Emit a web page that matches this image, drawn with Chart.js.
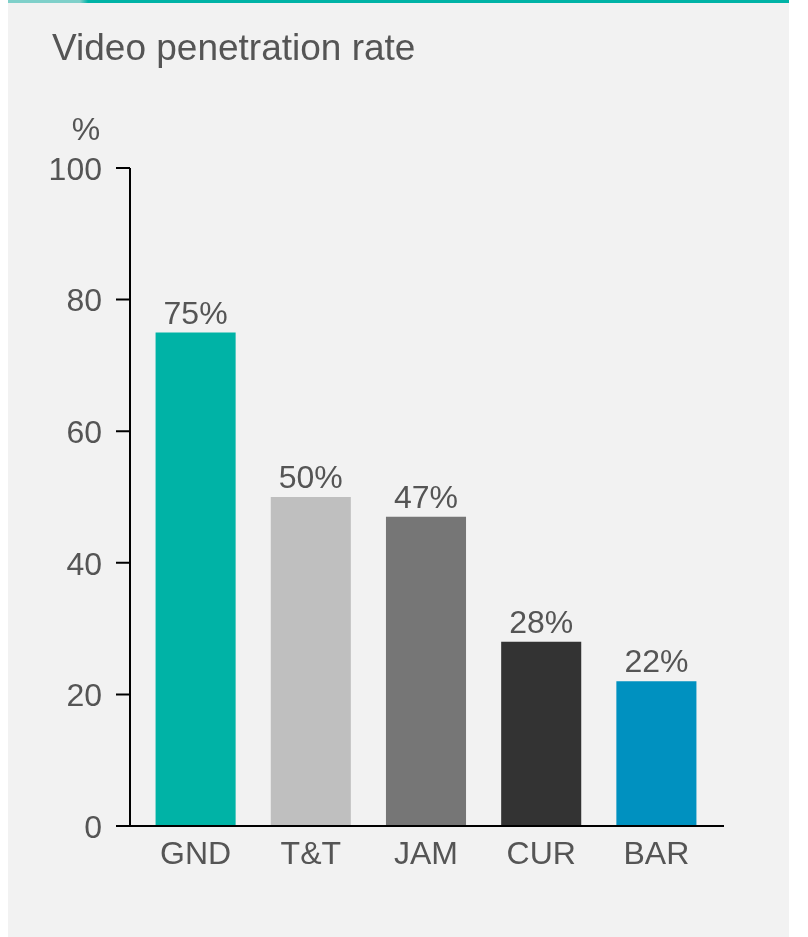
<!DOCTYPE html>
<html>
<head>
<meta charset="utf-8">
<script src="https://cdn.jsdelivr.net/npm/chart.js@4"></script>
<style>
  html, body { margin: 0; padding: 0; background: #ffffff; }
  #panel { position: absolute; left: 8px; top: 0; width: 781px; height: 937px; background: #f2f2f2; }
  #bar-top { position: absolute; left: 8px; top: 0; width: 781px; height: 3px;
    background: linear-gradient(to right, #7fd0ca 0, #7fd0ca 72px, #00b3a6 80px, #00b3a6 100%); }
  #wrap { position: absolute; left: 0; top: 0; width: 808px; height: 937px; }
</style>
</head>
<body>
<div id="panel"></div>
<div id="bar-top"></div>
<div id="wrap"><canvas id="chart" width="808" height="937"></canvas></div>
<script>
const categories = ['GND', 'T&T', 'JAM', 'CUR', 'BAR'];
const penetration = [75, 50, 47, 28, 22];
const barColors = ['#00b3a6', '#bfbfbf', '#767676', '#333333', '#0091c0'];
const yTicks = [0, 20, 40, 60, 80, 100];

const FONT = 'Arial, "Liberation Sans", sans-serif';
const TEXT = '#555555';

// axis lines, tick marks, title, unit and value labels
const decorations = {
  id: 'decorations',
  afterDatasetsDraw(chart) {
    const { ctx, chartArea, scales } = chart;
    const axisX = chartArea.left - 8;
    ctx.save();
    ctx.strokeStyle = '#000000';
    ctx.lineWidth = 2;
    ctx.beginPath();
    ctx.moveTo(axisX, scales.y.getPixelForValue(100));
    ctx.lineTo(axisX, chartArea.bottom);
    ctx.moveTo(chartArea.left - 22, chartArea.bottom);
    ctx.lineTo(chartArea.right + 10, chartArea.bottom);
    yTicks.forEach(v => {
      const y = scales.y.getPixelForValue(v);
      ctx.moveTo(axisX - 14, y);
      ctx.lineTo(axisX, y);
    });
    ctx.stroke();

    ctx.fillStyle = TEXT;
    ctx.font = '37px ' + FONT;
    ctx.textAlign = 'left';
    ctx.textBaseline = 'alphabetic';
    ctx.fillText('Video penetration rate', 52, 60);

    ctx.font = '32px ' + FONT;
    ctx.textAlign = 'center';
    ctx.fillText('%', 86, 140);

    const meta = chart.getDatasetMeta(0);
    meta.data.forEach((bar, i) => {
      ctx.fillText(penetration[i] + '%', bar.x, bar.y - 9);
    });
    ctx.restore();
  }
};

new Chart(document.getElementById('chart'), {
  type: 'bar',
  data: {
    labels: categories,
    datasets: [{
      data: penetration,
      backgroundColor: barColors,
      borderWidth: 0,
      barPercentage: 0.695,
      categoryPercentage: 1
    }]
  },
  options: {
    responsive: false,
    animation: false,
    layout: { padding: { left: 0, right: 94, top: 168, bottom: 51 } },
    plugins: { legend: { display: false }, tooltip: { enabled: false }, title: { display: false } },
    scales: {
      x: {
        afterFit: s => { s.height = 60; },
        grid: { display: false, drawTicks: false },
        border: { display: false },
        ticks: { color: TEXT, font: { family: FONT, size: 32 }, padding: 10 }
      },
      y: {
        min: 0,
        max: 100,
        afterFit: s => { s.width = 138; },
        afterBuildTicks: s => { s.ticks = yTicks.map(v => ({ value: v })); },
        grid: { display: false, drawTicks: false },
        border: { display: false },
        ticks: { color: TEXT, font: { family: FONT, size: 32 }, padding: 36, labelOffset: 3 }
      }
    }
  },
  plugins: [decorations]
});
</script>
</body>
</html>
